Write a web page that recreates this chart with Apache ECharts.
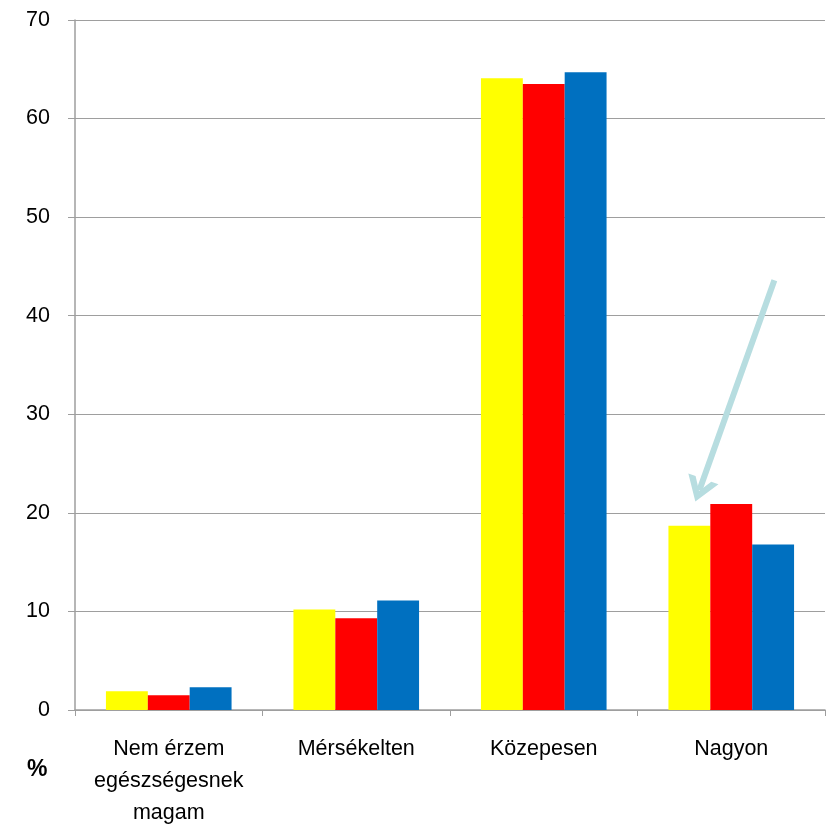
<!DOCTYPE html>
<html>
<head>
<meta charset="utf-8">
<script src="https://cdn.jsdelivr.net/npm/echarts@6/dist/echarts.min.js"></script>
<style>
  html, body { margin: 0; padding: 0; background: #fff; }
  #chart { width: 831px; height: 826px; }
</style>
</head>
<body>
<div id="chart"></div>
<script>
const categories = ['Nem érzem\negészségesnek\nmagam', 'Mérsékelten', 'Közepesen', 'Nagyon'];
const yellowValues = [1.9, 10.2, 64.1, 18.7];
const redValues = [1.5, 9.3, 63.5, 20.9];
const blueValues = [2.3, 11.1, 64.7, 16.8];
// arrow annotation, in [category position, value] units
const arrowFrom = [3.73, 43.6];
const arrowTo = [3.33, 22.3];

const font = 'Liberation Sans, Arial, sans-serif';
const chevron = 'path://M0,10 L5,0 L10,10 L7.6,10 L5,4.6 L2.4,10 Z';

const barSeries = (name, data, color) => ({
  name,
  type: 'bar',
  data,
  barGap: 0,
  barCategoryGap: '33%',
  itemStyle: { color },
});

const option = {
  animation: false,
  grid: { left: 75, right: 6, top: 20, bottom: 116, containLabel: false, outerBoundsMode: 'none' },
  xAxis: [
    {
      type: 'category',
      data: categories,
      axisLine: { show: true, lineStyle: { color: '#9E9E9E', width: 1.5 } },
      axisTick: { show: true, length: 6, lineStyle: { color: '#9E9E9E' } },
      axisLabel: {
        color: '#000',
        fontFamily: font,
        fontSize: 21.5,
        lineHeight: 32,
        margin: 23,
        interval: 0,
      },
    },
    {
      type: 'value',
      min: 0,
      max: 4,
      show: false,
    },
  ],
  yAxis: {
    type: 'value',
    min: 0,
    max: 70,
    interval: 10,
    axisLine: { show: true, lineStyle: { color: '#9E9E9E', width: 1.5 } },
    axisTick: { show: true, length: 7, lineStyle: { color: '#9E9E9E' } },
    splitLine: { lineStyle: { color: '#9E9E9E', width: 1.2 } },
    axisLabel: { color: '#000', fontFamily: font, fontSize: 21.5, margin: 25 },
  },
  graphic: [
    {
      type: 'text',
      left: 27,
      top: 758,
      style: { text: '%', fill: '#000', font: 'bold 23px ' + font },
    },
  ],
  series: [
    barSeries('1', yellowValues, '#FFFF00'),
    barSeries('2', redValues, '#FF0000'),
    barSeries('3', blueValues, '#0070C0'),
    {
      type: 'line',
      xAxisIndex: 1,
      data: [],
      silent: true,
      markLine: {
        silent: true,
        symbol: ['none', chevron],
        symbolSize: [32, 24],
        label: { show: false },
        lineStyle: { color: '#B7DDE0', width: 6, type: 'solid' },
        data: [[{ coord: arrowFrom }, { coord: arrowTo }]],
      },
    },
  ],
};

const myChart = echarts.init(document.getElementById('chart'));
myChart.setOption(option);
</script>
</body>
</html>
